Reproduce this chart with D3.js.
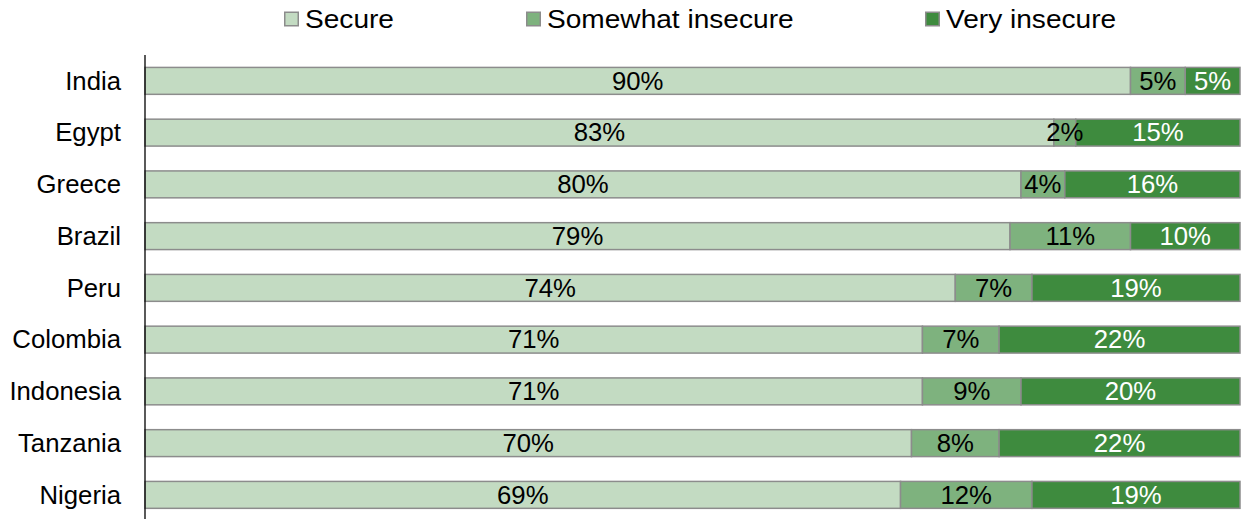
<!DOCTYPE html>
<html>
<head>
<meta charset="utf-8">
<script src="https://cdn.jsdelivr.net/npm/d3@7"></script>
<style>
  html, body { margin: 0; padding: 0; background: #fff; }
  svg { display: block; font-family: "Liberation Sans", Arial, sans-serif; }
</style>
</head>
<body>
<svg id="chart" width="1241" height="519"></svg>
<script>
// Food security by country (share of respondents, %)
const countries = ["India", "Egypt", "Greece", "Brazil", "Peru", "Colombia", "Indonesia", "Tanzania", "Nigeria"];
const secure = [90, 83, 80, 79, 74, 71, 71, 70, 69];
const somewhatInsecure = [5, 2, 4, 11, 7, 7, 9, 8, 12];
const veryInsecure = [5, 15, 16, 10, 19, 22, 20, 22, 19];
const seriesNames = ["Secure", "Somewhat insecure", "Very insecure"];
const seriesColors = ["#c3dbc2", "#7eb27e", "#3e8b3e"];
const labelColors = ["#000", "#000", "#fff"];

const rows = countries.map((c, i) => ({
  country: c,
  "Secure": secure[i],
  "Somewhat insecure": somewhatInsecure[i],
  "Very insecure": veryInsecure[i]
}));

const svg = d3.select("#chart");
const stretch = 1.03;       // glyphs are drawn slightly wide
const fontSize = 25;

const x = d3.scaleLinear().domain([0, 100]).range([145, 1240]);
const y = d3.scaleBand().domain(countries).range([55, 520.75]).paddingInner(0.48).paddingOuter(0.24);

const stack = d3.stack().keys(seriesNames)(rows);

const layers = svg.append("g").selectAll("g")
  .data(stack)
  .join("g")
  .attr("fill", (d, i) => seriesColors[i]);

layers.selectAll("rect")
  .data(d => d)
  .join("rect")
  .attr("x", d => x(d[0]))
  .attr("y", d => y(d.data.country))
  .attr("width", d => x(d[1]) - x(d[0]))
  .attr("height", y.bandwidth())
  .attr("stroke", "#8c8c8c")
  .attr("stroke-width", 1.5);

// value labels centred in each segment
stack.forEach((layer, si) => {
  svg.append("g").selectAll("text")
    .data(layer)
    .join("text")
    .attr("transform", d => `translate(${(x(d[0]) + x(d[1])) / 2},${y(d.data.country) + y.bandwidth() / 2}) scale(${stretch},1)`)
    .attr("dy", "0.35em")
    .attr("text-anchor", "middle")
    .attr("font-size", fontSize)
    .attr("fill", labelColors[si])
    .text(d => (d[1] - d[0]) + "%");
});

// category axis
const axis = svg.append("g").attr("transform", "translate(145,0)")
  .call(d3.axisLeft(y).tickSize(0).tickPadding(24));
axis.select(".domain").remove();
axis.append("line").attr("x1", 0).attr("x2", 0).attr("y1", 55).attr("y2", 519)
  .attr("stroke", "#000").attr("stroke-width", 1.3);
axis.selectAll(".tick text")
  .attr("font-size", fontSize)
  .attr("font-family", "'Liberation Sans', Arial, sans-serif")
  .attr("fill", "#000")
  .attr("dy", "0.35em")
  .attr("x", null)
  .attr("transform", `translate(-24,0) scale(${stretch},1)`);

// legend
const legendX = [284, 526, 925];
const legend = svg.append("g").selectAll("g")
  .data(seriesNames)
  .join("g")
  .attr("transform", (d, i) => `translate(${legendX[i]},11.5)`);
legend.append("rect")
  .attr("x", 0.75).attr("y", 0.75)
  .attr("width", 13.5).attr("height", 13.5)
  .attr("fill", (d, i) => seriesColors[i])
  .attr("stroke", "#8c8c8c").attr("stroke-width", 1.5);
legend.append("text")
  .attr("transform", `translate(21,16.8) scale(1.06,1)`)
  .attr("font-size", 26.5)
  .attr("fill", "#000")
  .text(d => d);
</script>
</body>
</html>
